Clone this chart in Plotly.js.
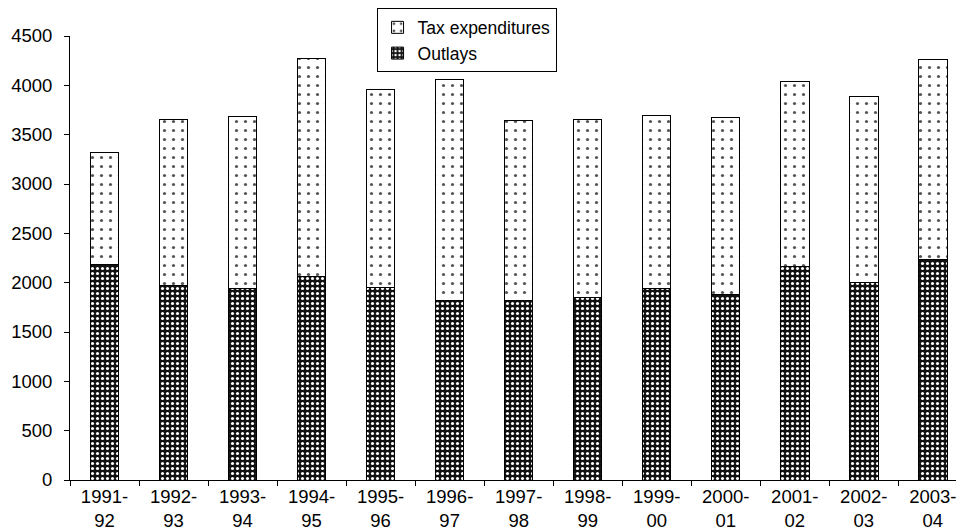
<!DOCTYPE html>
<html>
<head>
<meta charset="utf-8">
<script src="https://cdn.plot.ly/plotly-3.0.1.min.js"></script>
<style>
  html, body { margin: 0; padding: 0; background: #fff; overflow: hidden; }
  #chart { width: 956px; height: 531px; }
</style>
</head>
<body>
<div id="chart"></div>
<script>
// Financial years shown along the x axis
const years = ["1991-92", "1992-93", "1993-94", "1994-95", "1995-96", "1996-97", "1997-98",
               "1998-99", "1999-00", "2000-01", "2001-02", "2002-03", "2003-04"];
// Two-line tick labels
const yearLabels = ["1991-<br>92", "1992-<br>93", "1993-<br>94", "1994-<br>95", "1995-<br>96",
                    "1996-<br>97", "1997-<br>98", "1998-<br>99", "1999-<br>00", "2000-<br>01",
                    "2001-<br>02", "2002-<br>03", "2003-<br>04"];
// Direct outlays (lower segment)
const outlays = [2186, 1976, 1943, 2060, 1946, 1824, 1817, 1848, 1936, 1885, 2162, 2000, 2237];
// Tax expenditures (upper segment)
const taxExpenditures = [1131, 1680, 1743, 2217, 2014, 2237, 1825, 1808, 1763, 1794, 1875, 1882, 2020];
// Y axis ticks
const yTicks = [0, 500, 1000, 1500, 2000, 2500, 3000, 3500, 4000, 4500];

const FONT = "Liberation Sans, Arial, sans-serif";
const FS = 18.5;

const traces = [
  {
    type: "bar",
    name: "Outlays",
    legendrank: 2,
    x: years,
    y: outlays,
    marker: {
      color: "#111",
      line: { color: "#000", width: 1 },
      pattern: { shape: ".", bgcolor: "#111", fgcolor: "#ffffff", size: 5, solidity: 0.3, fillmode: "replace" }
    },
    hoverinfo: "x+y+name"
  },
  {
    type: "bar",
    name: "Tax expenditures",
    legendrank: 1,
    x: years,
    y: taxExpenditures,
    marker: {
      color: "#ffffff",
      line: { color: "#000", width: 1 },
      pattern: { shape: ".", bgcolor: "#ffffff", fgcolor: "#555555", size: 9, solidity: 0.1, fillmode: "replace" }
    },
    hoverinfo: "x+y+name"
  }
];

const layout = {
  width: 956,
  height: 531,
  margin: { l: 70, r: 0, t: 36, b: 51, pad: 0 },
  paper_bgcolor: "#fff",
  plot_bgcolor: "#fff",
  barmode: "stack",
  bargap: 0.587,
  font: { family: FONT, size: FS, color: "#000" },
  showlegend: true,
  legend: {
    x: 0.346, xanchor: "left",
    y: 1.062, yanchor: "top",
    bordercolor: "#000", borderwidth: 1,
    bgcolor: "#fff",
    traceorder: "normal",
    font: { family: FONT, size: 17.5, color: "#000" },
    itemwidth: 30
  },
  xaxis: {
    type: "category",
    range: [-0.5, 12.336],
    tickmode: "array",
    tickvals: years,
    ticktext: yearLabels,
    tickson: "boundaries",
    ticks: "outside",
    ticklen: 5,
    tickcolor: "#000",
    showline: true,
    linecolor: "#000",
    linewidth: 1,
    showgrid: false,
    zeroline: false,
    tickfont: { family: FONT, size: FS, color: "#000" }
  },
  yaxis: {
    range: [0, 4500],
    tickmode: "array",
    tickvals: yTicks,
    ticks: "outside",
    ticklen: 5,
    tickcolor: "#000",
    ticklabelstandoff: 8,
    showline: true,
    linecolor: "#000",
    linewidth: 1,
    showgrid: false,
    zeroline: false,
    tickfont: { family: FONT, size: FS, color: "#000" }
  }
};

Plotly.newPlot("chart", traces, layout, { displayModeBar: false, staticPlot: true });
</script>
</body>
</html>
